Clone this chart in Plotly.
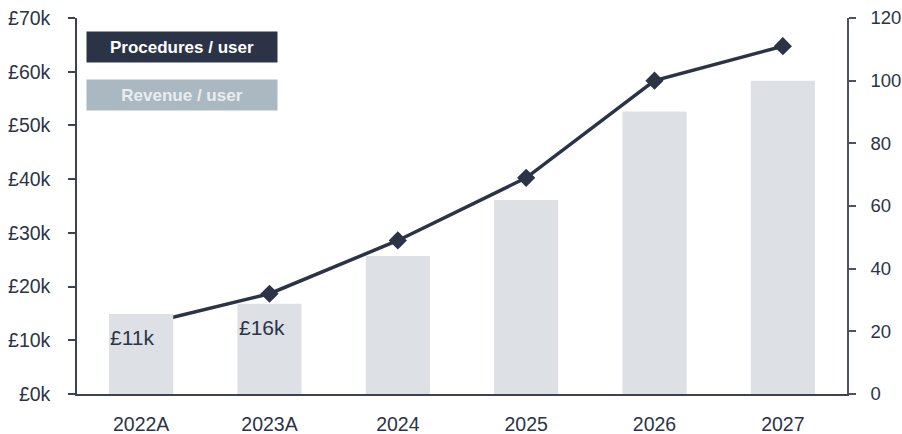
import plotly.graph_objects as go

# chart data
years = ["2022A", "2023A", "2024", "2025", "2026", "2027"]
revenue_k = [14.9, 16.8, 25.7, 36.1, 52.6, 58.3]      # £k per user (left axis)
procedures = [22, 32, 49, 69, 100, 111]               # procedures per user (right axis)
bar_labels = ["£11k", "£16k", "", "", "", ""]

navy = "#2b3447"
bar_grey = "#dde1e5"
font_family = "Liberation Sans, Arial, sans-serif"

fig = go.Figure()

# line on the base axis (right side) so the bars sit on top of it
fig.add_trace(go.Scatter(
    x=years, y=procedures, mode="lines+markers",
    line=dict(color=navy, width=3.5),
    marker=dict(symbol="diamond", size=14, color=navy),
    yaxis="y", showlegend=False, hoverinfo="skip",
))

# bars on the overlaying axis (left side)
fig.add_trace(go.Bar(
    x=years, y=revenue_k, marker=dict(color=bar_grey, line=dict(width=0)),
    yaxis="y2", showlegend=False,
))

# labels inside the first bars
for yr, val, lab in zip(years, revenue_k, bar_labels):
    if lab:
        fig.add_annotation(
            x=yr, y=val, xref="x", yref="y2", text=lab, showarrow=False,
            xanchor="left", yanchor="top", xshift=-33, yshift=-10,
            font=dict(size=21, color=navy, family=font_family),
        )

# legend boxes
fig.add_annotation(
    x=0.136, y=0.924, xref="paper", yref="paper", text="<b>Procedures / user</b>",
    showarrow=False, xanchor="center", yanchor="middle",
    width=186, height=26, borderpad=2, bgcolor=navy,
    font=dict(size=17, color="white", family=font_family),
)
fig.add_annotation(
    x=0.136, y=0.795, xref="paper", yref="paper", text="<b>Revenue / user</b>",
    showarrow=False, xanchor="center", yanchor="middle",
    width=186, height=26, borderpad=2, bgcolor="#aab9c1",
    font=dict(size=17, color="#e9edef", family=font_family),
)

tick_font = dict(size=19.5, color=navy, family=font_family)
right_font = dict(size=18.5, color=navy, family=font_family)

fig.update_layout(
    width=902, height=434,
    margin=dict(l=77, r=55, t=18, b=40),
    paper_bgcolor="white", plot_bgcolor="white",
    bargap=0.5,
    font=dict(family=font_family, color=navy),
    xaxis=dict(
        type="category", range=[-0.5, 5.5], automargin=False,
        showline=True, linecolor="#3a4254", linewidth=1.5,
        ticks="", ticklabelstandoff=12, tickfont=tick_font,
        showgrid=False, zeroline=False,
    ),
    yaxis=dict(
        side="right", range=[0, 120], dtick=20, automargin=False,
        showline=True, linecolor="#4a5263", linewidth=1.5,
        ticks="outside", ticklen=7, tickcolor="#4a5263", tickwidth=1.5,
        ticklabelstandoff=11, tickfont=right_font,
        showgrid=False, zeroline=False,
    ),
    yaxis2=dict(
        overlaying="y", side="left", range=[0, 70], dtick=10, automargin=False,
        tickprefix="£", ticksuffix="k",
        showline=True, linecolor="#3a4254", linewidth=1.5,
        ticks="outside", ticklen=7, tickcolor="#3a4254", tickwidth=1.5,
        ticklabelstandoff=14, tickfont=tick_font,
        showgrid=False, zeroline=False,
    ),
)

# page body has a default 8px margin; drop it so the figure fills the window
fig.write_html(
    "out.html",
    config={"displayModeBar": False},
    post_script="document.body.style.margin='0';",
)
